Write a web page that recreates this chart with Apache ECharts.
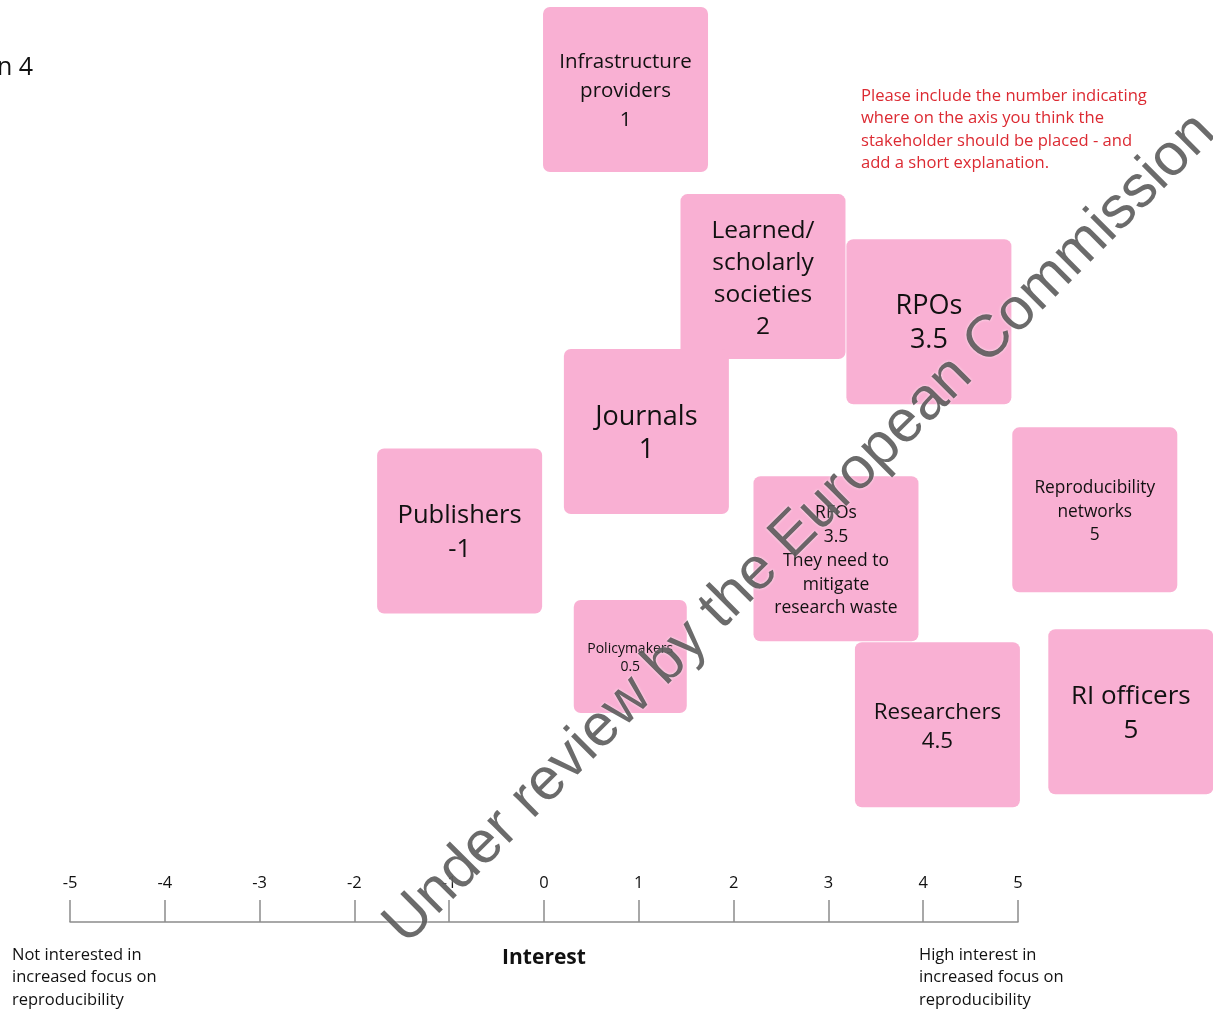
<!DOCTYPE html>
<html>
<head>
<meta charset="utf-8">
<script src="https://cdn.jsdelivr.net/npm/echarts@6/dist/echarts.min.js"></script>
<style>
  html, body { margin: 0; padding: 0; background: #ffffff; }
  #chart { width: 1213px; height: 1011px; }
</style>
</head>
<body>
<div id="chart"></div>
<script>
// ---- Data ----
const stakeholders = [
  'Infrastructure\nproviders',
  'Learned/\nscholarly\nsocieties',
  'RPOs',
  'Journals',
  'Publishers',
  'Reproducibility\nnetworks',
  'RFOs',
  'Policymakers',
  'Researchers',
  'RI officers'
];
const scores = ['1', '2', '3.5', '1', '-1', '5', '3.5', '0.5', '4.5', '5'];
const comments = ['', '', '', '', '', '', 'They need to\nmitigate\nresearch waste', '', '', ''];
// where each note sits on the board (interest-axis units, vertical board units 0-10)
const boardX = [0.86, 2.31, 4.06, 1.08, -0.89, 5.81, 3.08, 0.91, 4.15, 6.19];
const boardY = [9.03, 7.00, 6.51, 5.32, 4.24, 4.47, 3.94, 2.88, 2.14, 2.28];
const axisMin = -5, axisMax = 5, axisStep = 1;
const axisTitle = 'Interest';
const lowCaption = 'Not interested in\nincreased focus on\nreproducibility';
const highCaption = 'High interest in\nincreased focus on\nreproducibility';
const instruction = 'Please include the number indicating\nwhere on the axis you think the\nstakeholder should be placed - and\nadd a short explanation.';
const sessionTitle = 'Session 4';
const watermark = 'Under review by the European Commission';

// ---- Presentation ----
const FONT = "'Open Sans', 'Noto Sans', sans-serif";
const TEXT = '#111111';
const noteStyle = [
  { size: 165, fs: 20.5, lh: 29 },
  { size: 165, fs: 24.5, lh: 32 },
  { size: 165, fs: 27, lh: 34 },
  { size: 165, fs: 27, lh: 33 },
  { size: 165, fs: 25.5, lh: 34 },
  { size: 165, fs: 17.3, lh: 23.5 },
  { size: 165, fs: 17.5, lh: 23.8 },
  { size: 113, fs: 14, lh: 18 },
  { size: 165, fs: 22.3, lh: 29 },
  { size: 165, fs: 26, lh: 34 }
];

const noteData = stakeholders.map((n, i) => [boardX[i], boardY[i], i]);

const chart = echarts.init(document.getElementById('chart'), null, { renderer: 'canvas' });

chart.setOption({
  backgroundColor: '#ffffff',
  animation: false,
  grid: { left: 70, right: 195, top: 0, bottom: 89, containLabel: false },
  xAxis: {
    type: 'value',
    min: axisMin,
    max: axisMax,
    interval: axisStep,
    position: 'bottom',
    name: axisTitle,
    nameLocation: 'middle',
    nameGap: 26,
    nameTextStyle: { fontFamily: FONT, fontSize: 21, fontWeight: 'bold', color: TEXT, verticalAlign: 'top' },
    axisLine: { show: true, lineStyle: { color: '#8c8c8c', width: 1.5 } },
    axisTick: { show: true, inside: true, length: 22, lineStyle: { color: '#8c8c8c', width: 1.5 } },
    axisLabel: { inside: true, margin: 30, fontFamily: FONT, fontSize: 16.5, color: TEXT,
                 formatter: v => String(v) },
    splitLine: { show: false }
  },
  yAxis: { type: 'value', min: 0, max: 10, show: false },
  series: [{
    type: 'custom',
    clip: false,
    data: noteData,
    encode: { x: 0, y: 1 },
    z: 5,
    renderItem: function (params, api) {
      const i = api.value(2);
      const c = api.coord([api.value(0), api.value(1)]);
      const st = noteStyle[i];
      const s = st.size;
      let text = stakeholders[i] + '\n' + scores[i];
      if (comments[i]) text += '\n' + comments[i];
      return {
        type: 'group',
        children: [
          { type: 'rect',
            shape: { x: c[0] - s / 2, y: c[1] - s / 2, width: s, height: s, r: 7 },
            style: { fill: '#F9B0D3' } },
          { type: 'text', x: c[0], y: c[1] + 2,
            style: { text: text, fontFamily: FONT, fontSize: st.fs, lineHeight: st.lh,
                     align: 'center', verticalAlign: 'middle', fill: TEXT } }
        ]
      };
    }
  }],
  graphic: [
    { type: 'text', left: 12, top: 944, z: 10,
      style: { text: lowCaption, fontFamily: FONT, fontSize: 16.5, lineHeight: 22.5, fill: TEXT } },
    { type: 'text', left: 919, top: 944, z: 10,
      style: { text: highCaption, fontFamily: FONT, fontSize: 16.5, lineHeight: 22.5, fill: TEXT } },
    { type: 'text', left: 861, top: 85, z: 10,
      style: { text: instruction, fontFamily: FONT, fontSize: 16.6, lineHeight: 22.4, fill: '#dc2a32' } },
    { type: 'text', x: 33, y: 68, z: 10,
      style: { text: sessionTitle, fontFamily: FONT, fontSize: 25, fill: TEXT, align: 'right', verticalAlign: 'middle' } },
    { type: 'text', x: 800, y: 529, rotation: Math.PI / 4, z: 50,
      style: { text: watermark, fontFamily: "'Liberation Sans', Arial, sans-serif", fontSize: 59.5,
               align: 'center', verticalAlign: 'middle', fill: 'rgba(70,70,70,0.8)',
               textShadowColor: 'rgba(255,255,255,0.9)', textShadowBlur: 3 } }
  ]
});
</script>
</body>
</html>
